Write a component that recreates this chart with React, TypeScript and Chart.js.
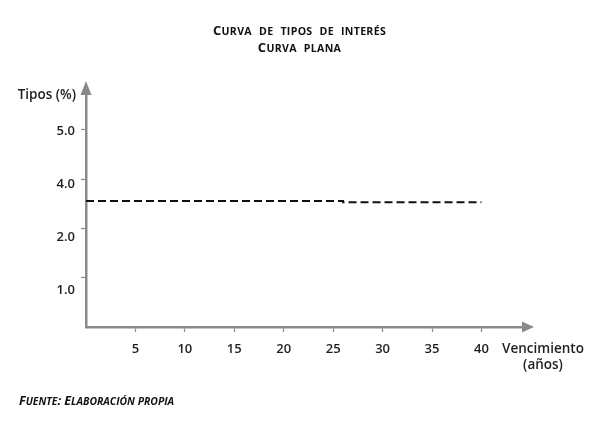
import React, { useEffect, useRef } from "react";
import { Chart, registerables } from "chart.js";
Chart.register(...registerables);

const maturities = [0, 26, 26, 40];
const rates = [2.56, 2.56, 2.53, 2.53];
const xTickValues = [5, 10, 15, 20, 25, 30, 35, 40];
const yTickValues = [1, 2, 3, 4];
const yTickLabels = ["1.0", "2.0", "4.0", "5.0"];
const titleLines = ["Curva de tipos de interés", "Curva plana"];
const yAxisTitle = "Tipos (%)";
const xAxisTitle = ["Vencimiento", "(años)"];
const sourceNote = "Fuente: Elaboración propia";

const AXIS = "#8a8a8a";
const TEXT = "#1e1e1e";
const FONT = "'Open Sans', 'Noto Sans', sans-serif";

const arrowPlugin = {
  id: "arrowsAndTitles",
  afterDraw(chart: any) {
    const { ctx, chartArea } = chart;
    const { left, top, right, bottom } = chartArea;
    ctx.save();
    ctx.fillStyle = AXIS;
    ctx.beginPath();
    ctx.moveTo(left - 5.5, top + 1);
    ctx.lineTo(left + 5.5, top + 1);
    ctx.lineTo(left, top - 13);
    ctx.closePath();
    ctx.fill();
    ctx.beginPath();
    ctx.moveTo(right - 1, bottom - 5.5);
    ctx.lineTo(right - 1, bottom + 5.5);
    ctx.lineTo(right + 11, bottom);
    ctx.closePath();
    ctx.fill();

    ctx.fillStyle = TEXT;
    ctx.font = `600 13.5px ${FONT}`;
    ctx.textBaseline = "alphabetic";
    ctx.textAlign = "right";
    ctx.fillText(yAxisTitle, left - 10, top + 5);
    ctx.textAlign = "center";
    ctx.textBaseline = "middle";
    ctx.fillText(xAxisTitle[0], right + 20, bottom + 22);
    ctx.fillText(xAxisTitle[1], right + 20, bottom + 38);
    ctx.restore();
  },
};

function SmallCaps({ text, big, small }: { text: string; big: number; small: number }) {
  const runs: { s: string; lower: boolean }[] = [];
  for (const ch of text) {
    const lower = ch !== ch.toUpperCase() || (ch === " " && runs.length > 0 && runs[runs.length - 1].lower);
    const last = runs[runs.length - 1];
    if (last && last.lower === lower) last.s += ch;
    else runs.push({ s: ch, lower });
  }
  return (
    <>
      {runs.map((r, i) =>
        r.lower ? (
          <span key={i} style={{ fontSize: small, textTransform: "uppercase" }}>
            {r.s}
          </span>
        ) : (
          <span key={i} style={{ fontSize: big }}>
            {r.s}
          </span>
        )
      )}
    </>
  );
}

export default function App() {
  const ref = useRef<HTMLCanvasElement | null>(null);

  useEffect(() => {
    if (!ref.current) return;
    const chart = new Chart(ref.current, {
      type: "line",
      data: {
        datasets: [
          {
            data: maturities.map((m, i) => ({ x: m, y: rates[i] })),
            yAxisID: "y",
            borderColor: "#111111",
            borderWidth: 2,
            borderDash: [8, 4],
            pointRadius: 0,
            fill: false,
            tension: 0,
          },
        ],
      },
      options: {
        responsive: false,
        animation: false,
        layout: { padding: { top: 86, right: 68, bottom: 0, left: 0 } },
        plugins: {
          legend: { display: false },
          title: { display: false },
          tooltip: { enabled: false },
        },
        scales: {
          x: {
            type: "linear",
            min: 0,
            max: 44.2,
            afterBuildTicks: (scale: any) => {
              scale.ticks = xTickValues.map((value) => ({ value }));
            },
            afterFit: (scale: any) => {
              scale.height = 95;
            },
            grid: {
              drawOnChartArea: false,
              drawTicks: true,
              tickLength: 5,
              tickColor: AXIS,
              tickWidth: 1.2,
            },
            border: { display: true, color: AXIS, width: 2.5 },
            ticks: {
              padding: 9,
              color: TEXT,
              font: { family: FONT, size: 13, weight: "600" },
              maxRotation: 0,
              autoSkip: false,
              callback: (v: any) => String(v),
            },
          },
          y: {
            type: "linear",
            position: "left",
            weight: 0,
            min: 0,
            max: 4.73,
            afterBuildTicks: (scale: any) => {
              scale.ticks = yTickValues.map((value) => ({ value }));
            },
            afterFit: (scale: any) => {
              scale.width = 7;
            },
            grid: {
              drawOnChartArea: false,
              drawTicks: true,
              tickLength: 5,
              tickColor: AXIS,
              tickWidth: 1.2,
            },
            border: { display: true, color: AXIS, width: 2.5 },
            ticks: { display: false },
          },
          yLabels: {
            type: "linear",
            position: "left",
            weight: 1,
            min: 0.3,
            max: 4.71,
            afterBuildTicks: (scale: any) => {
              scale.ticks = yTickValues.map((value) => ({ value }));
            },
            afterFit: (scale: any) => {
              scale.width = 71;
            },
            grid: { display: false, drawTicks: false },
            border: { display: false },
            ticks: {
              padding: 4,
              color: TEXT,
              font: { family: FONT, size: 13, weight: "600" },
              autoSkip: false,
              callback: (v: any) => {
                const i = yTickValues.indexOf(Number(v));
                return i >= 0 ? yTickLabels[i] : "";
              },
            },
          },
        },
      },
      plugins: [arrowPlugin],
    } as any);
    return () => chart.destroy();
  }, []);

  return (
    <div style={{ position: "relative", width: 583, height: 414 }}>
      <canvas ref={ref} width={583} height={414} style={{ display: "block" }} />
      <div
        style={{
          position: "absolute",
          left: 0,
          top: 14,
          width: 583,
          textAlign: "center",
          fontFamily: FONT,
          fontWeight: 700,
          lineHeight: "15px",
          letterSpacing: 0.3,
          wordSpacing: 4,
          color: "#111",
        }}
      >
        {titleLines.map((t, i) => (
          <div key={i}>
            <SmallCaps text={t} big={13} small={10.6} />
          </div>
        ))}
      </div>
      <div
        style={{
          position: "absolute",
          left: 11,
          top: 383,
          fontFamily: FONT,
          fontStyle: "italic",
          fontWeight: 700,
          lineHeight: "16px",
          letterSpacing: 0,
          color: "#111",
        }}
      >
        <SmallCaps text={sourceNote} big={12.5} small={10.4} />
      </div>
    </div>
  );
}
